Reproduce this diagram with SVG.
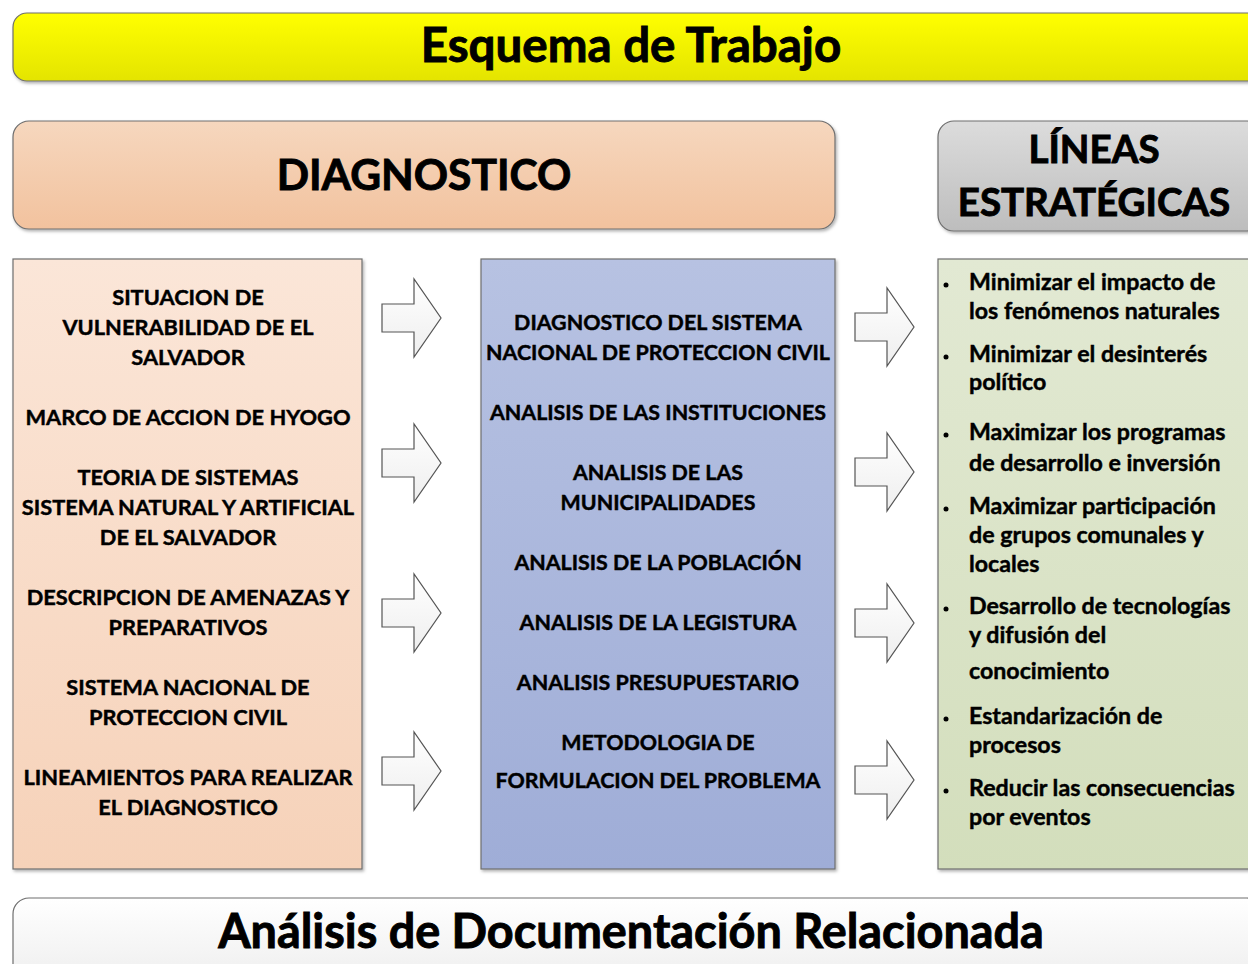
<svg xmlns="http://www.w3.org/2000/svg" width="1248" height="964" viewBox="0 0 1248 964">
<defs>
<linearGradient id="gYellow" x1="0" y1="0" x2="0" y2="1"><stop offset="0" stop-color="#FFFF00"/><stop offset="1" stop-color="#E4E400"/></linearGradient>
<linearGradient id="gPeach" x1="0" y1="0" x2="0" y2="1"><stop offset="0" stop-color="#F6D7BE"/><stop offset="1" stop-color="#F2C29E"/></linearGradient>
<linearGradient id="gGray" x1="0" y1="0" x2="0" y2="1"><stop offset="0" stop-color="#DCDCDC"/><stop offset="1" stop-color="#BDBDBD"/></linearGradient>
<linearGradient id="gLeft" x1="0" y1="0" x2="0" y2="1"><stop offset="0" stop-color="#FBE6D8"/><stop offset="1" stop-color="#F6D2B9"/></linearGradient>
<linearGradient id="gMid" x1="0" y1="0" x2="0" y2="1"><stop offset="0" stop-color="#B7C2E2"/><stop offset="1" stop-color="#9FADD7"/></linearGradient>
<linearGradient id="gRight" x1="0" y1="0" x2="0" y2="1"><stop offset="0" stop-color="#E2E9D3"/><stop offset="1" stop-color="#D3DEBC"/></linearGradient>
<linearGradient id="gWhite" x1="0" y1="0" x2="0" y2="1"><stop offset="0" stop-color="#FFFFFF"/><stop offset="1" stop-color="#EDEDED"/></linearGradient>
<linearGradient id="gArrow" x1="0" y1="0" x2="0" y2="1"><stop offset="0" stop-color="#FFFFFF"/><stop offset="1" stop-color="#EEEEEE"/></linearGradient>
<filter id="sh" x="-5%" y="-5%" width="110%" height="115%"><feDropShadow dx="1.5" dy="2" stdDeviation="1.5" flood-color="#000" flood-opacity="0.3"/></filter>
<path id="arr" d="M0,-14 H32 V-39 L59,0 L32,39 V14 H0 Z"/>
</defs>
<style>
text{font-family:Lato,"Open Sans","Liberation Sans",sans-serif;font-weight:bold;fill:#000;stroke:#000;stroke-width:0.45}
.box{stroke:#6E6E6E;stroke-width:1.2}
.c{text-anchor:middle;font-size:21.8px}
.m{text-anchor:middle;font-size:21.4px}
.r{font-size:23.2px}
.h{text-anchor:middle;stroke-width:0.9}
.arrow{fill:url(#gArrow);stroke:#555;stroke-width:1.2}
</style>
<g id="title">
<rect class="box" x="13" y="13" width="1250" height="68" rx="14" fill="url(#gYellow)" filter="url(#sh)"/>
<text class="h" x="631" y="62" font-size="47.5">Esquema de Trabajo</text>
</g>
<g id="diagnostico-header">
<rect class="box" x="13" y="121" width="822" height="108" rx="16" fill="url(#gPeach)" filter="url(#sh)"/>
<text class="h" x="424" y="190" font-size="42.5">DIAGNOSTICO</text>
</g>
<g id="lineas-header">
<rect class="box" x="938" y="121" width="325" height="110" rx="16" fill="url(#gGray)" filter="url(#sh)"/>
<text class="h" x="1094" y="163" font-size="38.5">LÍNEAS</text>
<text class="h" x="1094" y="216" font-size="38.5">ESTRATÉGICAS</text>
</g>
<g id="left-box">
<rect class="box" x="13" y="259" width="349" height="610" fill="url(#gLeft)" filter="url(#sh)"/>
<text class="c" x="188" y="305">SITUACION DE</text>
<text class="c" x="188" y="335">VULNERABILIDAD DE EL</text>
<text class="c" x="188" y="365">SALVADOR</text>
<text class="c" x="188" y="425">MARCO DE ACCION DE HYOGO</text>
<text class="c" x="188" y="485">TEORIA DE SISTEMAS</text>
<text class="c" x="188" y="515">SISTEMA NATURAL Y ARTIFICIAL</text>
<text class="c" x="188" y="545">DE EL SALVADOR</text>
<text class="c" x="188" y="605">DESCRIPCION DE AMENAZAS Y</text>
<text class="c" x="188" y="635">PREPARATIVOS</text>
<text class="c" x="188" y="695">SISTEMA NACIONAL DE</text>
<text class="c" x="188" y="725">PROTECCION CIVIL</text>
<text class="c" x="188" y="785">LINEAMIENTOS PARA REALIZAR</text>
<text class="c" x="188" y="815">EL DIAGNOSTICO</text>
</g>
<g id="middle-box">
<rect class="box" x="481" y="259" width="354" height="610" fill="url(#gMid)" filter="url(#sh)"/>
<text class="m" x="658" y="330">DIAGNOSTICO DEL SISTEMA</text>
<text class="m" x="658" y="360">NACIONAL DE PROTECCION CIVIL</text>
<text class="m" x="658" y="420">ANALISIS DE LAS INSTITUCIONES</text>
<text class="m" x="658" y="480">ANALISIS DE LAS</text>
<text class="m" x="658" y="510">MUNICIPALIDADES</text>
<text class="m" x="658" y="570">ANALISIS DE LA POBLACIÓN</text>
<text class="m" x="658" y="630">ANALISIS DE LA LEGISTURA</text>
<text class="m" x="658" y="690">ANALISIS PRESUPUESTARIO</text>
<text class="m" x="658" y="750">METODOLOGIA DE</text>
<text class="m" x="658" y="788">FORMULACION DEL PROBLEMA</text>
</g>
<g id="right-box">
<rect class="box" x="938" y="259" width="325" height="610" fill="url(#gRight)" filter="url(#sh)"/>
<g fill="#000">
<circle cx="946" cy="285" r="2.5"/><circle cx="946" cy="357" r="2.5"/><circle cx="946" cy="435" r="2.5"/><circle cx="946" cy="509" r="2.5"/><circle cx="946" cy="609" r="2.5"/><circle cx="946" cy="719" r="2.5"/><circle cx="946" cy="791" r="2.5"/>
</g>
<text class="r" x="969" y="290">Minimizar el impacto de</text>
<text class="r" x="969" y="319">los fenómenos naturales</text>
<text class="r" x="969" y="362">Minimizar el desinterés</text>
<text class="r" x="969" y="390">político</text>
<text class="r" x="969" y="440">Maximizar los programas</text>
<text class="r" x="969" y="471">de desarrollo e inversión</text>
<text class="r" x="969" y="514">Maximizar participación</text>
<text class="r" x="969" y="543">de grupos comunales y</text>
<text class="r" x="969" y="572">locales</text>
<text class="r" x="969" y="614">Desarrollo de tecnologías</text>
<text class="r" x="969" y="643">y difusión del</text>
<text class="r" x="969" y="679">conocimiento</text>
<text class="r" x="969" y="724">Estandarización de</text>
<text class="r" x="969" y="753">procesos</text>
<text class="r" x="969" y="796">Reducir las consecuencias</text>
<text class="r" x="969" y="825">por eventos</text>
</g>
<g id="connectors">
<use href="#arr" class="arrow" x="382" y="318"/>
<use href="#arr" class="arrow" x="382" y="463"/>
<use href="#arr" class="arrow" x="382" y="613"/>
<use href="#arr" class="arrow" x="382" y="771"/>
<use href="#arr" class="arrow" x="855" y="327"/>
<use href="#arr" class="arrow" x="855" y="472"/>
<use href="#arr" class="arrow" x="855" y="623"/>
<use href="#arr" class="arrow" x="855" y="780"/>
</g>
<g id="bottom-banner">
<rect class="box" x="13" y="898" width="1250" height="90" rx="16" fill="url(#gWhite)"/>
<text class="h" x="631" y="948" font-size="46.8">Análisis de Documentación Relacionada</text>
</g>
</svg>
